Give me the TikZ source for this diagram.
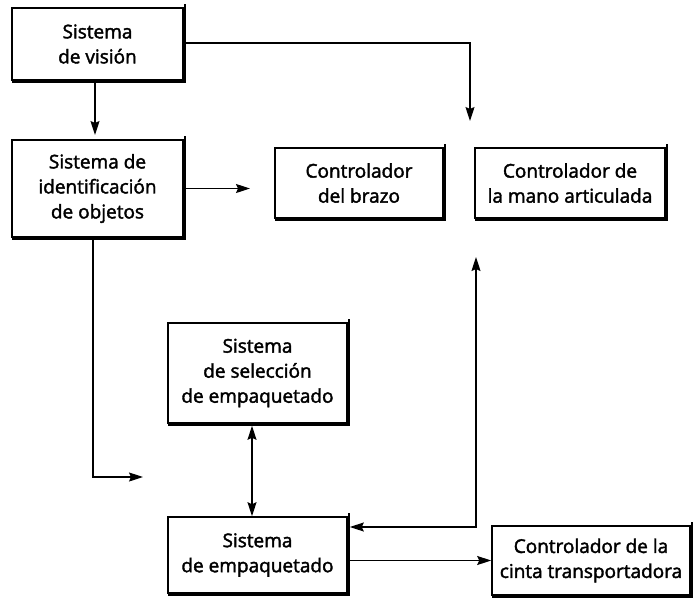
\documentclass[tikz,border=0pt]{standalone}
\usepackage{fontspec}
\setmainfont{Open Sans}[FakeBold=2]
\usetikzlibrary{arrows.meta,calc}
\begin{document}
\begin{tikzpicture}[x=1pt,y=-1pt,
  box/.style={draw=black, fill=white, line width=1.6pt, align=center, inner sep=0pt,
    font=\fontsize{19}{25}\selectfont},
  shade/.style={line width=2.6pt, line cap=rect},
  conn/.style={line width=1.2pt, -{Stealth[length=14pt,width=9pt,inset=2pt]}},
  conn2/.style={line width=1.2pt, {Stealth[length=14pt,width=9pt,inset=2pt]}-{Stealth[length=14pt,width=9pt,inset=2pt]}}
]
\useasboundingbox (0,0) rectangle (694,598);
\node[box, minimum width=171pt, minimum height=72pt] (vis) at (97.5,44) {Sistema\\de visión};
\node[box, minimum width=171pt, minimum height=97pt] (ide) at (97.5,188.5) {Sistema de\\identificación\\de objetos};
\node[box, minimum width=168pt, minimum height=70pt] (bra) at (359,183) {Controlador\\del brazo};
\node[box, minimum width=190pt, minimum height=70pt] (man) at (570,183) {Controlador de\\la mano articulada};
\node[box, minimum width=179pt, minimum height=100pt] (sel) at (257.5,373) {Sistema\\de selección\\de empaquetado};
\node[box, minimum width=179pt, minimum height=76pt] (emp) at (257.5,555) {Sistema\\de empaquetado};
\node[box, minimum width=198pt, minimum height=69pt] (cin) at (591,560.5) {Controlador de la\\cinta transportadora};

\foreach \n in {vis,ide,bra,man,sel,emp,cin}
  \draw[shade] ([shift={(1.3pt,2pt)}]\n.north east) -- ([shift={(1.3pt,-1.3pt)}]\n.south east) -- ([shift={(2pt,-1.3pt)}]\n.south west);

\coordinate (visend) at (95,135);
\coordinate (topbend) at (470,43);
\coordinate (topend) at (470,121);
\coordinate (ideend) at (250,188.5);
\coordinate (leftx) at (93,0);
\coordinate (leftbend) at (93,477);
\coordinate (leftend) at (143,477);
\coordinate (bidx) at (252,0);
\coordinate (rbend) at (476,527);
\coordinate (rend) at (476,257);

\draw[conn] ([yshift=-2pt]vis.south -| visend) -- (visend);
\draw[conn] (vis.east |- topbend) -- (topbend) -- (topend);
\draw[conn] (ide.east) -- (ideend);
\draw[conn] ([yshift=-2pt]ide.south -| leftx) -- (leftbend) -- (leftend);
\draw[conn2] ([yshift=-2pt]sel.south -| bidx) -- (emp.north -| bidx);
\draw[conn2] ([xshift=2pt]emp.east |- rbend) -- (rbend) -- (rend);
\draw[conn] ([xshift=2pt]emp.east |- cin.west) -- (cin.west);
\end{tikzpicture}
\end{document}
